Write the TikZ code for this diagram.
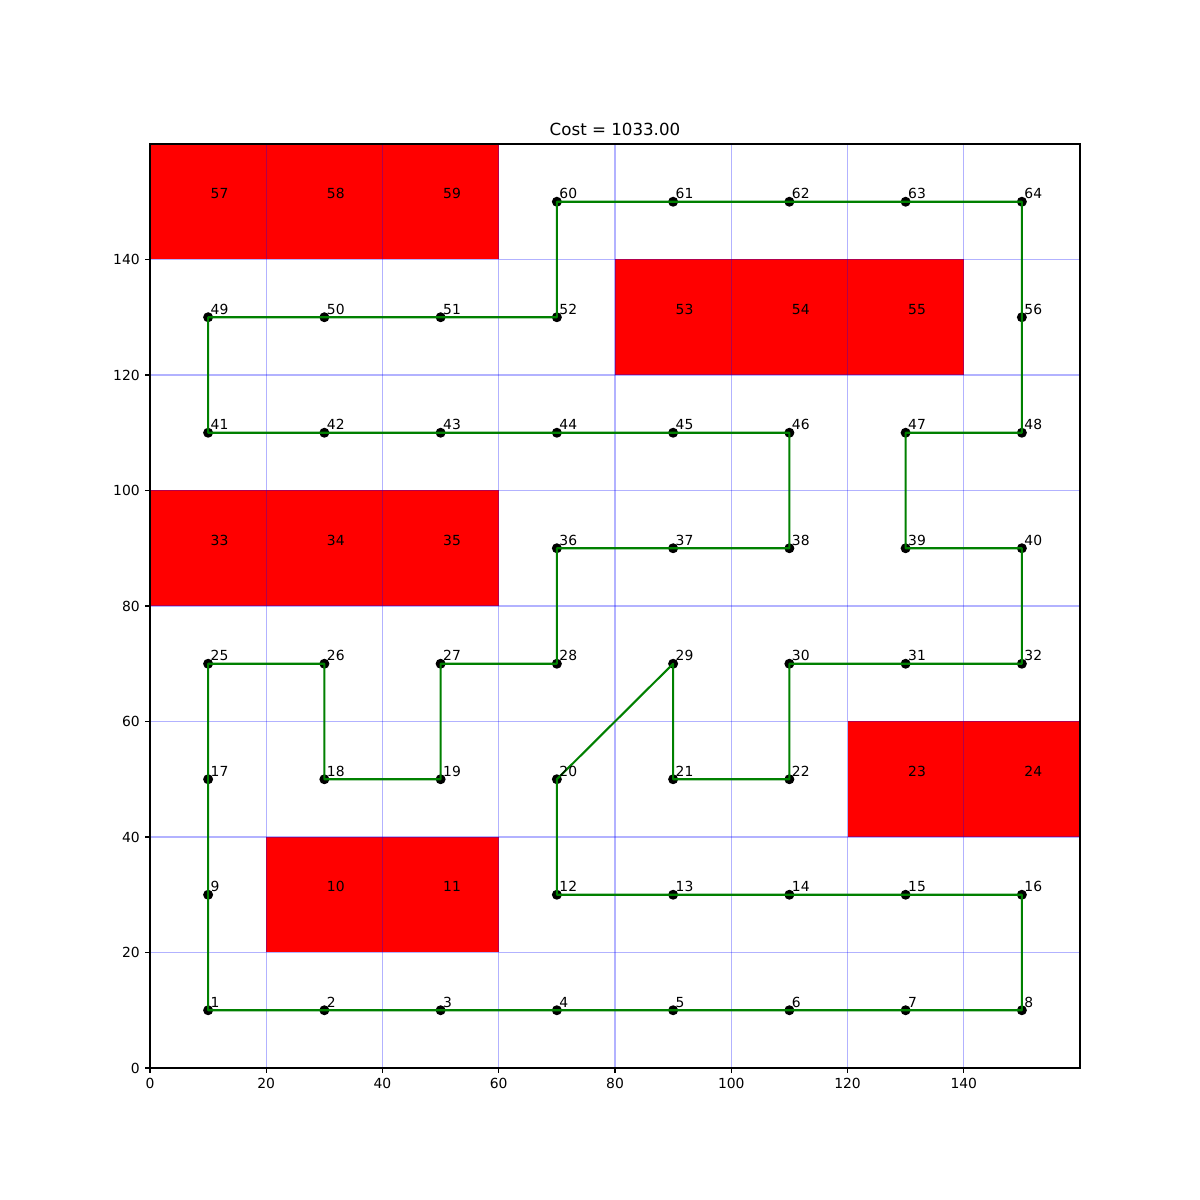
\documentclass[tikz,border=0pt]{standalone}
\usepackage{fontspec}
\setmainfont{DejaVu Sans}
\definecolor{routegreen}{RGB}{0,128,0}
\definecolor{gridblue}{RGB}{190,190,255}
\begin{document}
\begin{tikzpicture}[x=4.185pt, y=4.158pt, font=\fontsize{10}{12}\selectfont,
	gridline/.style={blue, opacity=0.3, line width=0.8pt},
	route/.style={routegreen, line width=1.5pt, line join=round},
	celllabel/.style={anchor=base west, inner sep=0pt},
	ticklabel/.style={inner sep=0pt}]
	\useasboundingbox (-25.806,-22.857) rectangle (180.645,184.935);
	
	% cell centres
	\foreach \c in {1,...,64} {
		\coordinate (p\c) at ({10+20*mod(\c-1,8)}, {10+20*div(\c-1,8)});
	}
	
	% obstacles
	\foreach \c in {10,11,23,24,33,34,35,53,54,55,57,58,59} {
		\fill[red] ([shift={(-10,-10)}]p\c) rectangle ([shift={(10,10)}]p\c);
	}
	
	\foreach \v in {20,40,...,140} {
		\draw[gridline] (\v,0) -- (\v,160);
		\draw[gridline] (0,\v) -- (160,\v);
	}
	
	% axes
	\draw[line width=0.8pt] (0,0) rectangle (160,160);
	\foreach \v in {0,20,...,140} {
		\draw[line width=0.8pt] (\v,0) -- ++(0,-3.5pt) node[ticklabel, anchor=north, yshift=-3.5pt] (xt\v) {\v};
		\draw[line width=0.8pt] (0,\v) -- ++(-3.5pt,0) node[ticklabel, anchor=east, xshift=-3.5pt] (yt\v) {\v};
	}
	\node[anchor=base, font=\fontsize{12}{14}\selectfont] (title) at ([yshift=6pt]80,160) {Cost = 1033.00};
	
	% free cells
	\foreach \c in {1,2,3,4,5,6,7,8,9,12,13,14,15,16,17,18,19,20,21,22,25,26,27,28,29,30,31,32,
		36,37,38,39,40,41,42,43,44,45,46,47,48,49,50,51,52,56,60,61,62,63,64} {
		\fill (p\c) circle (3.6pt);
	}
	
	\draw[route] (p1) \foreach \c in {2,3,4,5,6,7,8,16,15,14,13,12,20,29,21,22,30,31,32,40,39,47,48,
		56,64,63,62,61,60,52,51,50,49,41,42,43,44,45,46,38,37,36,28,27,19,18,26,25,17,9} {-- (p\c)} -- cycle;
	
	\foreach \c in {1,...,64} {
		\node[celllabel] (l\c) at ([shift={(0.4,0.5)}]p\c) {\c};
	}
\end{tikzpicture}
\end{document}
